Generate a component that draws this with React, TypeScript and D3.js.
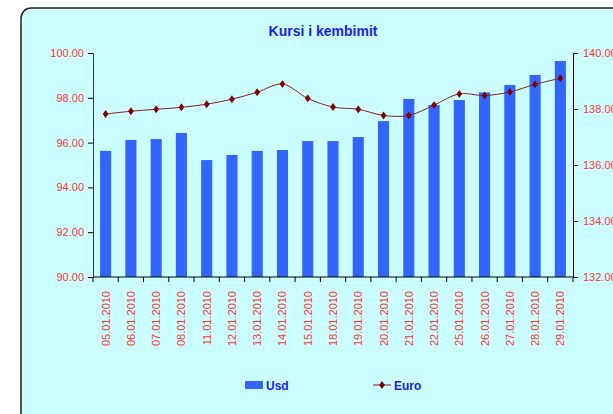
import React, { useEffect, useRef } from 'react'
import * as d3 from 'd3'

const dates = [
  '05.01.2010', '06.01.2010', '07.01.2010', '08.01.2010', '11.01.2010', '12.01.2010',
  '13.01.2010', '14.01.2010', '15.01.2010', '18.01.2010', '19.01.2010', '20.01.2010',
  '21.01.2010', '22.01.2010', '25.01.2010', '26.01.2010', '27.01.2010', '28.01.2010',
  '29.01.2010',
]
const usd = [
  95.63, 96.12, 96.16, 96.43, 95.22, 95.45, 95.63, 95.67, 96.07, 96.07,
  96.25, 96.96, 97.95, 97.68, 97.9, 98.24, 98.57, 99.02, 99.64,
]
const euro = [
  137.82, 137.92, 137.99, 138.06, 138.17, 138.35, 138.6, 138.89, 138.38, 138.07,
  137.99, 137.77, 137.77, 138.14, 138.54, 138.48, 138.61, 138.88, 139.1,
]
const leftTicks = [90, 92, 94, 96, 98, 100]
const rightTicks = [132, 134, 136, 138, 140]

const W = 613
const H = 414

const App: React.FC = () => {
  const svgRef = useRef<SVGSVGElement>(null)

  useEffect(() => {
    const svg = d3.select(svgRef.current)
    svg.selectAll('*').remove()

    const margin = { top: 53, right: 40, bottom: 137, left: 93 }
    const innerW = W - margin.left - margin.right
    const innerH = H - margin.top - margin.bottom
    const font = 'Arial, "Liberation Sans", sans-serif'
    const red = '#ff3333'
    const marker = d3.symbol().type(d3.symbolDiamond).size(20)()

    // 背景框
    svg.append('rect')
      .attr('x', 21).attr('y', 8)
      .attr('width', 640).attr('height', 440)
      .attr('rx', 10)
      .attr('fill', '#ccffff')
      .attr('stroke', '#222')
      .attr('stroke-width', 1.5)

    svg.append('text')
      .attr('x', 323).attr('y', 36)
      .attr('text-anchor', 'middle')
      .attr('font-family', font)
      .attr('font-size', 14)
      .attr('font-weight', 'bold')
      .attr('fill', '#1a1aff')
      .text('Kursi i kembimit')

    const g = svg.append('g').attr('transform', `translate(${margin.left},${margin.top})`)

    const x = d3.scaleBand().domain(dates).range([0, innerW]).paddingInner(0.56).paddingOuter(0.28)
    const yL = d3.scaleLinear().domain([90, 100]).range([innerH, 0])
    const yR = d3.scaleLinear().domain([132, 140]).range([innerH, 0])

    // 柱子
    g.selectAll('.bar')
      .data(usd)
      .enter()
      .append('rect')
      .attr('x', (_, i) => x(dates[i])!)
      .attr('y', d => yL(d))
      .attr('width', x.bandwidth())
      .attr('height', d => innerH - yL(d))
      .attr('fill', '#3366ff')

    // 折线
    const line = d3.line<number>()
      .x((_, i) => x(dates[i])! + x.bandwidth() / 2)
      .y(d => yR(d))
      .curve(d3.curveCatmullRom.alpha(0.5))

    g.append('path')
      .datum(euro)
      .attr('fill', 'none')
      .attr('stroke', '#8b1a1a')
      .attr('stroke-width', 1)
      .attr('d', line)

    g.selectAll('.pt')
      .data(euro)
      .enter()
      .append('path')
      .attr('transform', (d, i) => `translate(${x(dates[i])! + x.bandwidth() / 2},${yR(d)}) scale(1.2,0.95)`)
      .attr('d', marker)
      .attr('fill', '#800000')

    // 左轴
    const left = g.append('g')
      .call(d3.axisLeft(yL).tickValues(leftTicks).tickSize(5).tickPadding(4).tickFormat(d3.format('.2f')))
    left.select('.domain').attr('stroke', '#333')
    left.selectAll('text').attr('fill', red).attr('font-family', font).attr('font-size', 11)

    // 右轴
    const right = g.append('g')
      .attr('transform', `translate(${innerW},0)`)
      .call(d3.axisRight(yR).tickValues(rightTicks).tickSize(5).tickPadding(5).tickFormat(d3.format('.2f')))
    right.selectAll('text').attr('fill', red).attr('font-family', font).attr('font-size', 11)

    // X轴
    const step = x.step()
    const bottom = g.append('g')
      .attr('transform', `translate(0,${innerH})`)
    bottom.append('line')
      .attr('x1', 0).attr('x2', innerW)
      .attr('stroke', '#000')
    d3.range(dates.length + 1).forEach(i => {
      bottom.append('line')
        .attr('x1', i * step).attr('x2', i * step)
        .attr('y1', 0).attr('y2', 5)
        .attr('stroke', '#000')
    })
    bottom.selectAll('.lbl')
      .data(dates)
      .enter()
      .append('text')
      .attr('transform', d => `translate(${x(d)! + x.bandwidth() / 2 + 4},14) rotate(-90)`)
      .attr('text-anchor', 'end')
      .attr('font-family', font)
      .attr('font-size', 11)
      .attr('fill', red)
      .text(d => d)

    // 图例
    const legend = svg.append('g')
    legend.append('rect')
      .attr('x', 245).attr('y', 381)
      .attr('width', 18).attr('height', 8)
      .attr('fill', '#3366ff')
    legend.append('text')
      .attr('x', 266).attr('y', 389.5)
      .attr('font-family', font).attr('font-size', 12).attr('font-weight', 'bold')
      .attr('fill', '#1a1aff')
      .text('Usd')
    legend.append('line')
      .attr('x1', 373).attr('x2', 391)
      .attr('y1', 385).attr('y2', 385)
      .attr('stroke', '#8b1a1a').attr('stroke-width', 1)
    legend.append('path')
      .attr('transform', 'translate(382,385) scale(1.2,0.95)')
      .attr('d', marker)
      .attr('fill', '#800000')
    legend.append('text')
      .attr('x', 394).attr('y', 389.5)
      .attr('font-family', font).attr('font-size', 12).attr('font-weight', 'bold')
      .attr('fill', '#1a1aff')
      .text('Euro')
  }, [])

  return (
    <svg ref={svgRef} width={W} height={H} style={{ position: 'absolute', left: 0, top: 0 }}></svg>
  )
}

export default App
